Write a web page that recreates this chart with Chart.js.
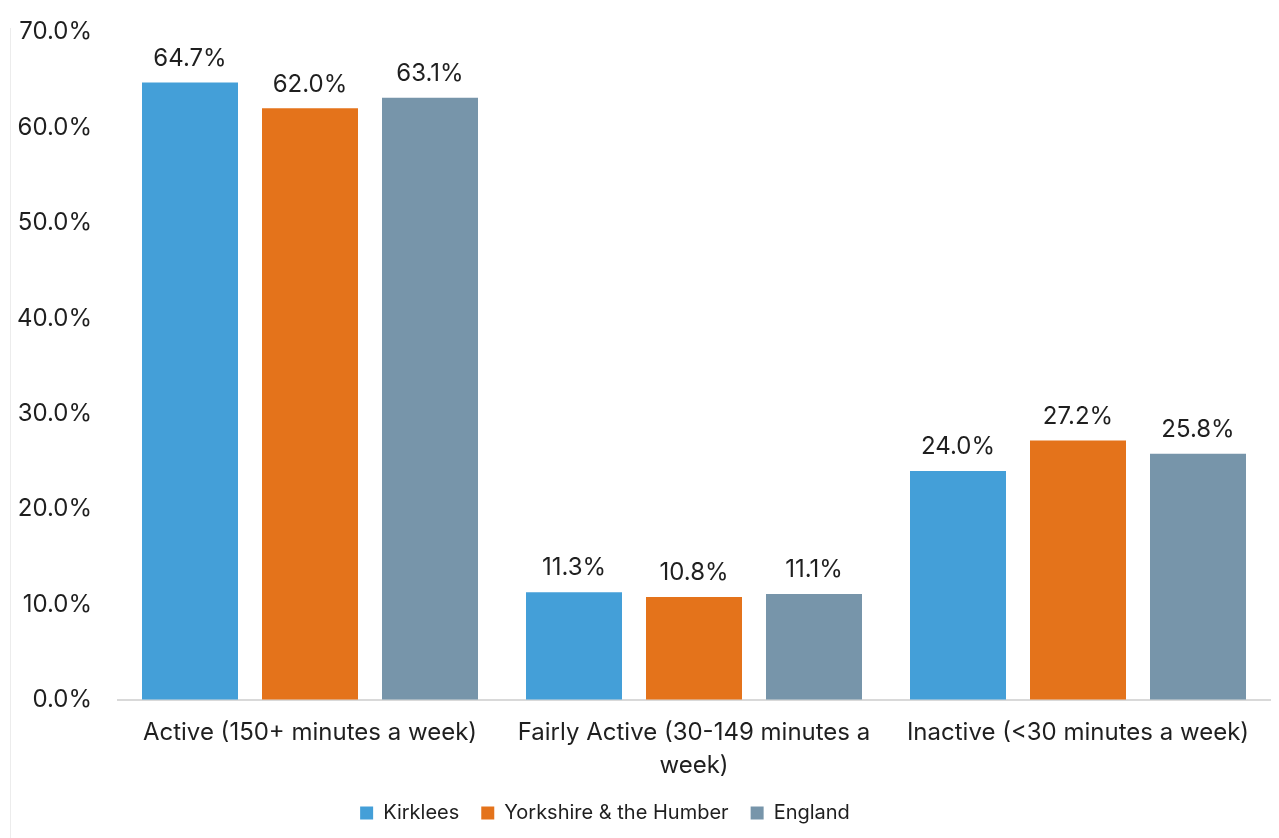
<!DOCTYPE html>
<html lang="en">
<head>
    <meta charset="UTF-8">
    <title>Physical Activity Levels</title>
    <script src="https://cdn.jsdelivr.net/npm/chart.js"></script>
    <style>
        html, body { margin: 0; padding: 0; background: #fff; }
        .wrap { position: relative; width: 1279px; height: 838px; }
        .wrap::before {
            content: ''; position: absolute; left: 10px; top: 28px; bottom: 0;
            border-left: 1px solid #ececec;
        }
    </style>
</head>
<body>
    <div class="wrap">
        <canvas id="activityChart" width="1279" height="838"></canvas>
    </div>

    <script>
        // Activity categories and percentage of adults in each
        const categories = [
            'Active (150+ minutes a week)',
            ['Fairly Active (30-149 minutes a', 'week)'],
            'Inactive (<30 minutes a week)'
        ];
        const kirklees = [64.7, 11.3, 24.0];
        const yorkshire = [62.0, 10.8, 27.2];
        const england = [63.1, 11.1, 25.8];
        const yTicks = [0, 10, 20, 30, 40, 50, 60, 70];

        const FONT = 'Inter, "Noto Sans", sans-serif';
        const TEXT = '#1f1f1f';

        // Writes each bar's value above it
        const valueLabels = {
            id: 'valueLabels',
            afterDatasetsDraw(chart) {
                const ctx = chart.ctx;
                ctx.save();
                ctx.font = '24px ' + FONT;
                ctx.fillStyle = TEXT;
                ctx.textAlign = 'center';
                ctx.textBaseline = 'middle';
                chart.data.datasets.forEach((ds, i) => {
                    chart.getDatasetMeta(i).data.forEach((bar, j) => {
                        ctx.fillText(ds.data[j].toFixed(1) + '%', bar.x, bar.y - 24);
                    });
                });
                ctx.restore();
            }
        };

        // Nudge the legend a little left of centre
        const legendShift = {
            id: 'legendShift',
            afterLayout(chart) {
                chart.legend.left -= 30;
                chart.legend.right -= 30;
            }
        };

        const ctx = document.getElementById('activityChart').getContext('2d');
        new Chart(ctx, {
            type: 'bar',
            data: {
                labels: categories,
                datasets: [
                    { label: 'Kirklees', data: kirklees, backgroundColor: '#449fd8' },
                    { label: 'Yorkshire & the Humber', data: yorkshire, backgroundColor: '#e4731b' },
                    { label: 'England', data: england, backgroundColor: '#7795aa' }
                ]
            },
            options: {
                responsive: false,
                animation: false,
                categoryPercentage: 0.9375,
                barPercentage: 0.8,
                layout: { padding: { top: 32, right: 9, bottom: 5, left: 0 } },
                scales: {
                    x: {
                        afterFit: (scale) => { scale.height = 81; },
                        grid: { display: false, drawTicks: false },
                        border: { display: true, color: '#d9d9d9', width: 2 },
                        ticks: {
                            color: TEXT,
                            font: { family: FONT, size: 24, lineHeight: 1.35 },
                            padding: 17,
                            maxRotation: 0,
                            autoSkip: false
                        }
                    },
                    y: {
                        min: 0,
                        max: 70,
                        afterFit: (scale) => { scale.width = 118; },
                        afterBuildTicks: (scale) => {
                            scale.ticks = yTicks.map(v => ({ value: v }));
                        },
                        grid: {
                            display: true,
                            drawOnChartArea: false,
                            drawTicks: true,
                            tickLength: 10,
                            color: 'transparent'
                        },
                        border: { display: false },
                        ticks: {
                            color: TEXT,
                            font: { family: FONT, size: 24 },
                            padding: 16,
                            callback: (v) => v.toFixed(1) + '%'
                        }
                    }
                },
                plugins: {
                    legend: {
                        position: 'bottom',
                        labels: {
                            color: TEXT,
                            font: { family: FONT, size: 20 },
                            boxWidth: 13,
                            boxHeight: 13,
                            padding: 22
                        }
                    },
                    tooltip: { enabled: false }
                }
            },
            plugins: [valueLabels, legendShift]
        });
    </script>
</body>
</html>
